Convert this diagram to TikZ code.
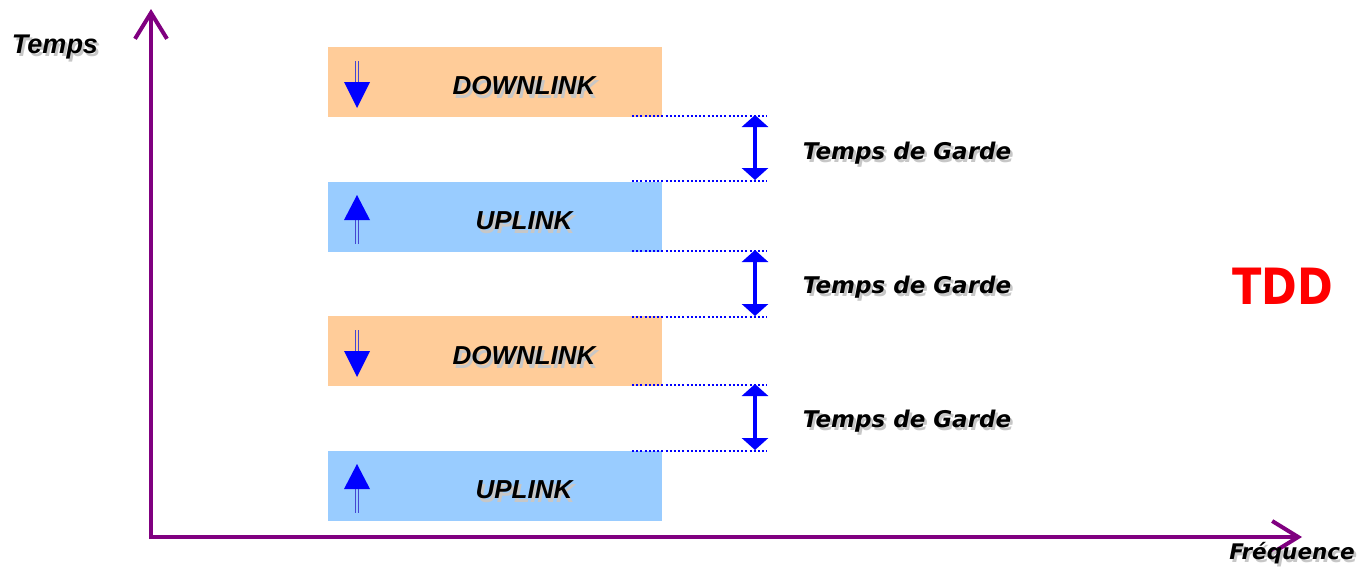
\documentclass[tikz,border=0pt]{standalone}
\usepackage{fontspec}
\setmainfont{Liberation Sans}
\newfontfamily\roundfont{DejaVu Sans}
\usetikzlibrary{arrows.meta,calc}
\definecolor{axiscol}{RGB}{128,0,128}
\definecolor{downcol}{RGB}{255,204,153}
\definecolor{upcol}{RGB}{153,204,255}
\definecolor{linkcol}{RGB}{0,0,255}
\definecolor{shaftcol}{RGB}{70,70,210}
\definecolor{tddcol}{RGB}{255,0,0}

% text with a soft grey drop shadow: name, position, font, text
\newcommand{\shadowlabel}[4]{%
  \node[text=black!22, font=#3, inner sep=0pt] (#1-sh) at ($(#2)+(2.5,3.5)$) {#4};
  \node[text=black, font=#3, inner sep=0pt] (#1) at (#2) {#4};
}

\begin{document}
\begin{tikzpicture}[x=1pt,y=-1pt,
  axisline/.style={draw=axiscol, line width=4pt,
    -{Straight Barb[length=26pt,width=32pt,line width=4pt]}},
  slotbox/.style={minimum width=334pt, minimum height=70pt, inner sep=0pt, draw=none},
  dlbox/.style={slotbox, fill=downcol},
  ulbox/.style={slotbox, fill=upcol},
  guardline/.style={draw=linkcol, line width=2pt, dash pattern=on 2pt off 2.2pt},
  guardarrow/.style={draw=linkcol, line width=4pt,
    {Triangle[length=12pt,width=26pt]}-{Triangle[length=12pt,width=26pt]}},
  shaft/.style={draw=shaftcol, line width=1.4pt},
  head/.style={fill=linkcol, draw=none},
]
\useasboundingbox (0,0) rectangle (1357,571);

\def\linkfont{\fontsize{26}{26}\selectfont\bfseries\itshape}
\def\gardefont{\roundfont\fontsize{23}{23}\selectfont\bfseries\itshape}
\def\axisfont{\fontsize{27}{27}\selectfont\bfseries\itshape}

% axes
\coordinate (origin) at (151,539);
\coordinate (ytip) at (151,9);
\coordinate (xtip) at (1302,537);
\coordinate (xstart) at (149,537);
\draw[axisline] (origin) -- (ytip);
\draw[axisline] (xstart) -- (xtip);

% time slots
\node[dlbox] (d1) at (495,82) {};
\node[ulbox] (u1) at (495,216.5) {};
\node[dlbox] (d2) at (495,350.5) {};
\node[ulbox] (u2) at (495,485.5) {};

\shadowlabel{d1t}{524,86}{\linkfont}{DOWNLINK}
\shadowlabel{u1t}{524,221}{\linkfont}{UPLINK}
\shadowlabel{d2t}{524,356}{\linkfont}{DOWNLINK}
\shadowlabel{u2t}{524,490}{\linkfont}{UPLINK}

% direction marks inside the slots
\foreach \y in {61,330}{
  \draw[shaft] (355.5,\y) -- (355.5,\y+22);
  \draw[shaft] (358.5,\y) -- (358.5,\y+22);
  \fill[head] (344,\y+21) -- (370,\y+21) -- (357,\y+47) -- cycle;
}
\foreach \y in {195,464}{
  \draw[shaft] (355.5,\y+24) -- (355.5,\y+49);
  \draw[shaft] (358.5,\y+24) -- (358.5,\y+49);
  \fill[head] (344,\y+25) -- (370,\y+25) -- (357,\y) -- cycle;
}

% guard periods
\foreach \ya/\yb/\n in {116/181/1, 251/317/2, 385/451/3}{
  \coordinate (ga\n) at (632,\ya);
  \coordinate (gb\n) at (632,\yb);
  \draw[guardline] (ga\n) -- ++(135,0);
  \draw[guardline] (gb\n) -- ++(135,0);
  \coordinate (gt\n) at (755,\ya-1);
  \coordinate (gd\n) at (755,\yb-1);
  \draw[guardarrow] (gt\n) -- (gd\n);
}
\shadowlabel{g1}{907,153}{\gardefont}{Temps de Garde}
\shadowlabel{g2}{907,287}{\gardefont}{Temps de Garde}
\shadowlabel{g3}{907,421}{\gardefont}{Temps de Garde}

% axis names
\shadowlabel{tlabel}{55,47}{\axisfont}{Temps}
\shadowlabel{flabel}{1292,553}{\gardefont\fontsize{21.5}{21.5}\selectfont}{Fréquence}

% mode label
\node[text=tddcol, font=\roundfont\fontsize{50}{50}\selectfont\bfseries, xscale=0.86, inner sep=0pt] (tdd) at (1283,286) {TDD};
\end{tikzpicture}
\end{document}
